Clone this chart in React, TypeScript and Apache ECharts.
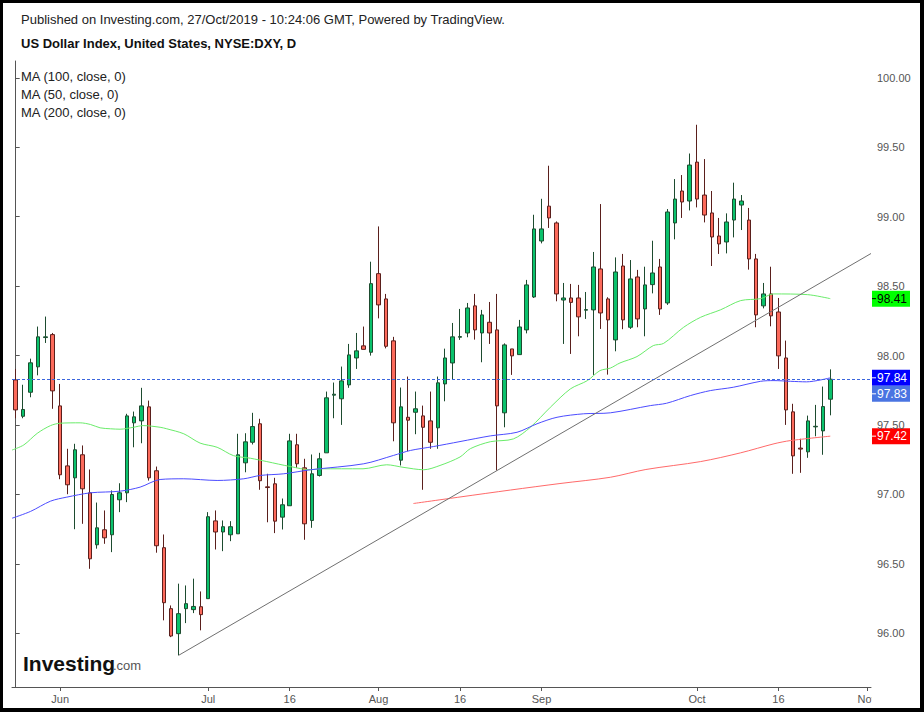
import React, { useEffect, useRef } from "react";
import * as echarts from "echarts";

// ---------- data ----------
const START_DATE = "2019-05-24";
const END_DATE = "2019-11-01";

function weekdays(start: string, end: string): string[] {
  const out: string[] = [];
  const d = new Date(start + "T00:00:00Z");
  const e = new Date(end + "T00:00:00Z");
  while (d <= e) {
    const wd = d.getUTCDay();
    if (wd !== 0 && wd !== 6) out.push(d.toISOString().slice(0, 10));
    d.setUTCDate(d.getUTCDate() + 1);
  }
  return out;
}
const categories = weekdays(START_DATE, END_DATE);

const xTickLabels: Record<string, string> = {
  "2019-06-03": "Jun",
  "2019-07-01": "Jul",
  "2019-07-16": "16",
  "2019-08-01": "Aug",
  "2019-08-16": "16",
  "2019-09-02": "Sep",
  "2019-10-01": "Oct",
  "2019-10-16": "16",
  "2019-11-01": "Nov",
};

const yTickValues = [96, 96.5, 97, 97.5, 98, 98.5, 99, 99.5, 100];

// [open, close, low, high]
const ohlc: number[][] = [
  [97.825, 97.609, 97.549, 97.904],
  [97.563, 97.612, 97.549, 97.79],
  [97.736, 97.948, 97.7, 97.978],
  [97.919, 98.135, 97.858, 98.209],
  [98.13, 98.135, 98.091, 98.281],
  [98.151, 97.746, 97.617, 98.163],
  [97.638, 97.142, 97.11, 97.796],
  [97.206, 97.07, 97.002, 97.329],
  [97.12, 97.322, 96.75, 97.365],
  [97.286, 97.041, 96.789, 97.353],
  [97.012, 96.537, 96.465, 97.18],
  [96.638, 96.76, 96.61, 96.942],
  [96.746, 96.688, 96.645, 96.885],
  [96.71, 97.0, 96.585, 97.029],
  [96.962, 97.012, 96.873, 97.081],
  [97.012, 97.566, 96.945, 97.581],
  [97.516, 97.559, 97.34, 97.597],
  [97.53, 97.638, 97.369, 97.768],
  [97.631, 97.12, 97.1, 97.676],
  [97.171, 96.631, 96.581, 97.201],
  [96.617, 96.221, 96.094, 96.712],
  [96.178, 95.981, 95.973, 96.201],
  [95.998, 96.142, 95.842, 96.358],
  [96.178, 96.214, 96.074, 96.345],
  [96.171, 96.194, 96.146, 96.394],
  [96.192, 96.135, 96.022, 96.302],
  [96.25, 96.84, 96.25, 96.873],
  [96.81, 96.73, 96.604, 96.885],
  [96.73, 96.768, 96.592, 96.813],
  [96.71, 96.768, 96.664, 96.808],
  [96.717, 97.286, 96.717, 97.437],
  [97.228, 97.379, 97.16, 97.441],
  [97.376, 97.489, 97.36, 97.588],
  [97.509, 97.099, 97.034, 97.545],
  [97.055, 97.05, 96.8, 97.149],
  [97.077, 96.808, 96.722, 97.12],
  [96.837, 96.926, 96.748, 96.971],
  [96.919, 97.386, 96.919, 97.437],
  [97.358, 97.221, 97.192, 97.437],
  [97.192, 96.789, 96.674, 97.257],
  [96.813, 97.149, 96.76, 97.288],
  [97.137, 97.257, 97.129, 97.3],
  [97.3, 97.696, 97.3, 97.741],
  [97.715, 97.722, 97.549, 97.806],
  [97.689, 97.818, 97.501, 97.921],
  [97.789, 98.005, 97.768, 98.084],
  [97.983, 98.034, 97.904, 98.163],
  [98.07, 98.045, 98.045, 98.209],
  [98.024, 98.518, 98.0, 98.676],
  [98.59, 98.365, 98.268, 98.93],
  [98.408, 98.067, 98.052, 98.444],
  [98.106, 97.516, 97.383, 98.135],
  [97.247, 97.631, 97.209, 97.77],
  [97.556, 97.535, 97.312, 97.849],
  [97.592, 97.617, 97.434, 97.741],
  [97.566, 97.484, 97.034, 97.64],
  [97.53, 97.376, 97.329, 97.741],
  [97.48, 97.804, 97.329, 97.849],
  [97.796, 97.983, 97.671, 98.05],
  [97.947, 98.135, 97.827, 98.235],
  [98.132, 98.137, 98.113, 98.336],
  [98.163, 98.343, 98.132, 98.379],
  [98.358, 98.185, 98.115, 98.444],
  [98.163, 98.293, 97.952, 98.329],
  [98.24, 98.163, 98.084, 98.386],
  [98.185, 97.638, 97.173, 98.444],
  [97.588, 98.077, 97.484, 98.088],
  [98.048, 97.998, 97.861, 98.048],
  [98.007, 98.206, 98.007, 98.257],
  [98.185, 98.509, 98.16, 98.545],
  [98.422, 98.912, 98.415, 99.014],
  [98.825, 98.912, 98.808, 99.129],
  [99.076, 98.991, 98.919, 99.367],
  [98.955, 98.444, 98.391, 98.966],
  [98.4, 98.415, 98.084, 98.523],
  [98.415, 98.383, 98.012, 98.516],
  [98.415, 98.279, 98.139, 98.509],
  [98.327, 98.331, 98.264, 98.458],
  [98.329, 98.638, 97.861, 98.746],
  [98.624, 98.307, 98.192, 99.091],
  [98.408, 98.257, 97.863, 98.42],
  [98.113, 98.602, 98.031, 98.707],
  [98.645, 98.257, 98.19, 98.732],
  [98.204, 98.552, 98.192, 98.688],
  [98.566, 98.264, 98.204, 98.617],
  [98.336, 98.509, 98.139, 98.64],
  [98.511, 98.595, 98.448, 98.827],
  [98.638, 98.336, 98.293, 98.696],
  [98.379, 99.034, 98.365, 99.055],
  [98.955, 99.127, 98.837, 99.271],
  [99.185, 99.106, 98.991, 99.3],
  [99.113, 99.372, 99.045, 99.455],
  [99.393, 99.127, 99.067, 99.662],
  [99.156, 99.012, 98.959, 99.415],
  [99.027, 98.854, 98.645, 99.185],
  [98.861, 98.804, 98.732, 98.991],
  [98.818, 98.962, 98.736, 99.024],
  [98.976, 99.127, 98.851, 99.245],
  [99.084, 99.113, 98.904, 99.156],
  [98.976, 98.696, 98.619, 99.063],
  [98.696, 98.293, 98.204, 98.732],
  [98.358, 98.444, 98.34, 98.523],
  [98.444, 98.286, 98.211, 98.64],
  [98.314, 97.998, 97.904, 98.415],
  [97.983, 97.609, 97.501, 98.108],
  [97.595, 97.278, 97.149, 97.653],
  [97.334, 97.327, 97.156, 97.401],
  [97.307, 97.53, 97.264, 97.568],
  [97.487, 97.491, 97.419, 97.645],
  [97.458, 97.633, 97.286, 97.777],
  [97.686, 97.83, 97.57, 97.901],
];

// moving averages: [bar position, value]
const ma50: number[][] = [
  [-0.5, 97.32], [1.1, 97.357], [2.9, 97.44], [4.7, 97.496], [6.0, 97.513],
  [8.7, 97.516], [10.1, 97.504], [11.4, 97.48], [12.8, 97.473], [14.1, 97.47],
  [15.9, 97.484], [17.2, 97.496], [19.5, 97.484], [20.4, 97.473], [22.7, 97.437],
  [24.9, 97.37], [27.2, 97.34], [29.4, 97.28], [31.7, 97.261], [33.9, 97.237],
  [37.1, 97.201], [39.8, 97.178], [41.1, 97.185], [46.9, 97.185], [50.1, 97.214],
  [52.3, 97.196], [55.1, 97.178], [57.3, 97.209], [60.0, 97.27], [61.4, 97.33],
  [64.1, 97.38], [67.2, 97.4], [69.5, 97.484], [72.2, 97.628], [74.9, 97.76],
  [77.2, 97.82], [78.9, 97.892], [80.3, 97.91], [81.6, 97.947], [83.9, 97.993],
  [86.1, 98.072], [87.5, 98.088], [90.2, 98.204], [92.5, 98.276], [95.2, 98.33],
  [97.9, 98.396], [100.6, 98.41], [102.3, 98.444], [106.9, 98.439], [110, 98.41],
];

const ma100: number[][] = [
  [-0.5, 96.829], [2.0, 96.878], [4.7, 96.952], [6.9, 96.981], [10.1, 97.012],
  [14.1, 97.024], [16.8, 97.053], [19.5, 97.108], [22.7, 97.113], [27.2, 97.101],
  [30.8, 97.113], [33.0, 97.137], [36.2, 97.149], [39.8, 97.178], [47.0, 97.221],
  [51.0, 97.281], [53.3, 97.317], [56.4, 97.345], [60.0, 97.381], [64.1, 97.422],
  [67.7, 97.448], [70.4, 97.509], [73.1, 97.556], [76.7, 97.581], [80.3, 97.588],
  [85.7, 97.64], [87.9, 97.657], [91.1, 97.712], [93.8, 97.748], [96.9, 97.772],
  [100.6, 97.815], [102.4, 97.82], [104.6, 97.815], [106.8, 97.811], [110, 97.84],
];

const ma200: number[][] = [
  [53.7, 96.935], [60.0, 96.982], [66.8, 97.032], [73.5, 97.079], [80.3, 97.124],
  [85.1, 97.18], [92.5, 97.237], [97.9, 97.3], [102.4, 97.365], [104.6, 97.388],
  [110, 97.42],
];

const trendLine: number[][] = [
  [22, 95.842],
  [115.5, 98.735],
];

const lastClose = ohlc[ohlc.length - 1][1];

// ---------- styling ----------
const FONT = '"Liberation Sans", Arial, Helvetica, sans-serif';
const AXIS_COLOR = "#555";
const W = 924;
const H = 712;

export default function App() {
  const ref = useRef<HTMLDivElement>(null);

  useEffect(() => {
    document.body.style.margin = "0";
    if (!ref.current) return;
    const chart = echarts.init(ref.current, undefined, { renderer: "svg" });

    const option: any = {
      animation: false,
      backgroundColor: "#ffffff",
      grid: { left: 12, right: 53, top: 61, bottom: 25 },
      xAxis: [
        {
          type: "category",
          data: categories,
          boundaryGap: true,
          axisLine: { show: true, lineStyle: { color: AXIS_COLOR, width: 1 } },
          axisTick: {
            show: true,
            alignWithLabel: true,
            length: 4,
            interval: (_i: number, v: string) => v in xTickLabels,
            lineStyle: { color: AXIS_COLOR },
          },
          axisLabel: {
            interval: (_i: number, v: string) => v in xTickLabels,
            formatter: (v: string) => xTickLabels[v] || "",
            color: AXIS_COLOR,
            fontSize: 11,
            fontFamily: FONT,
            margin: 6,
          },
          splitLine: { show: false },
        },
        {
          type: "value",
          min: -0.5,
          max: categories.length - 0.5,
          show: false,
        },
      ],
      yAxis: {
        type: "value",
        position: "right",
        min: 95.614,
        max: 100.121,
        axisLine: { show: true, lineStyle: { color: AXIS_COLOR, width: 1 } },
        axisTick: {
          show: true,
          length: 4,
          customValues: yTickValues,
          lineStyle: { color: AXIS_COLOR },
        },
        axisLabel: {
          customValues: yTickValues,
          formatter: (v: number) => v.toFixed(2),
          color: AXIS_COLOR,
          fontSize: 11,
          fontFamily: FONT,
          margin: 6,
        },
        splitLine: { show: false },
      },
      series: [
        {
          type: "candlestick",
          xAxisIndex: 0,
          data: ohlc,
          barWidth: 4,
          itemStyle: {
            color: "#0ac26c",
            color0: "#fc6a5b",
            borderColor: "#1d4b2f",
            borderColor0: "#5a1f1c",
            borderWidth: 1,
          },
          markLine: {
            silent: true,
            symbol: "none",
            label: { show: false },
            lineStyle: { color: "#3b66de", type: [3, 2], width: 1 },
            data: [{ yAxis: lastClose }],
          },
        },
        {
          type: "line",
          xAxisIndex: 1,
          data: ma50,
          showSymbol: false,
          smooth: 0.3,
          lineStyle: { color: "#6aec6a", width: 1 },
        },
        {
          type: "line",
          xAxisIndex: 1,
          data: ma100,
          showSymbol: false,
          smooth: 0.3,
          lineStyle: { color: "#4c4cff", width: 1 },
        },
        {
          type: "line",
          xAxisIndex: 1,
          data: ma200,
          showSymbol: false,
          smooth: 0.3,
          lineStyle: { color: "#ff6a6a", width: 1 },
        },
        {
          type: "line",
          xAxisIndex: 1,
          data: trendLine,
          showSymbol: false,
          lineStyle: { color: "#707070", width: 1 },
        },
      ],
    };
    chart.setOption(option);

    const toY = (v: number) => chart.convertToPixel({ yAxisIndex: 0 }, v) as number;
    const boxX = 872;
    const boxW = 38;
    const boxH = 16;
    const priceBox = (v: number, cy: number, bg: string, fg: string) => ({
      type: "group",
      z: 50,
      children: [
        { type: "rect", shape: { x: boxX, y: cy - boxH / 2, width: boxW, height: boxH }, style: { fill: bg } },
        { type: "line", shape: { x1: boxX, y1: cy, x2: boxX + 4, y2: cy }, style: { stroke: fg, lineWidth: 1 } },
        {
          type: "text",
          x: boxX + boxW / 2 + 1,
          y: cy,
          style: { text: v.toFixed(2), fill: fg, font: `12px ${FONT}`, textAlign: "center", textVerticalAlign: "middle" },
        },
      ],
    });

    const last50 = ma50[ma50.length - 1][1];
    const last100 = ma100[ma100.length - 1][1];
    const last200 = ma200[ma200.length - 1][1];
    const y100 = toY(last100);

    const textEl = (text: string, x: number, y: number, font: string, fill = "#222") => ({
      type: "text",
      x,
      y,
      z: 60,
      style: { text, fill, font, textAlign: "left", textVerticalAlign: "middle" },
    });

    chart.setOption({
      graphic: [
        textEl("Published on Investing.com, 27/Oct/2019 - 10:24:06 GMT, Powered by TradingView.", 21, 19, `13px ${FONT}`),
        textEl("US Dollar Index, United States, NYSE:DXY, D", 21, 43, `bold 13px ${FONT}`, "#111"),
        textEl("MA (100, close, 0)", 21, 76.5, `13px ${FONT}`),
        textEl("MA (50, close, 0)", 21, 94.5, `13px ${FONT}`),
        textEl("MA (200, close, 0)", 21, 112.5, `13px ${FONT}`),
        {
          type: "text",
          x: 23,
          y: 674,
          z: 60,
          style: { text: "Investing", fill: "#111", font: `bold 21px ${FONT}`, textAlign: "left", textVerticalAlign: "bottom" },
        },
        {
          type: "text",
          x: 113,
          y: 672,
          z: 60,
          style: { text: ".com", fill: "#555", font: `13px ${FONT}`, textAlign: "left", textVerticalAlign: "bottom" },
        },
        priceBox(last50, toY(last50), "#00ff00", "#000000"),
        priceBox(last100, y100, "#0000ff", "#ffffff"),
        priceBox(lastClose, y100 + boxH, "#4a74e2", "#ffffff"),
        priceBox(last200, toY(last200), "#ff0000", "#ffffff"),
        // clip the last axis label at the price axis, as in the source
        { type: "rect", z: 70, shape: { x: 871.5, y: 689, width: 50, height: 19 }, style: { fill: "#ffffff" } },
        // black frame
        { type: "rect", z: 80, shape: { x: 0, y: 0, width: W, height: 3 }, style: { fill: "#000" } },
        { type: "rect", z: 80, shape: { x: 0, y: 0, width: 3, height: H }, style: { fill: "#000" } },
        { type: "rect", z: 80, shape: { x: 920, y: 0, width: 4, height: H }, style: { fill: "#000" } },
        { type: "rect", z: 80, shape: { x: 0, y: 708, width: W, height: 4 }, style: { fill: "#000" } },
      ],
    });

    return () => chart.dispose();
  }, []);

  return <div ref={ref} style={{ width: W, height: H }} />;
}
